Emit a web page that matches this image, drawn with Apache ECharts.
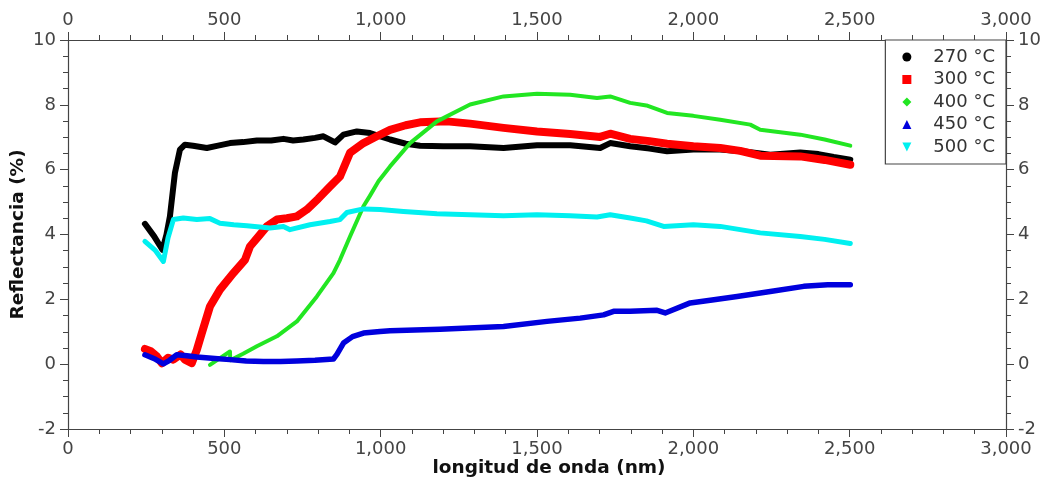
<!DOCTYPE html>
<html>
<head>
<meta charset="utf-8">
<title>Reflectancia</title>
<script src="https://cdn.jsdelivr.net/npm/echarts@6/dist/echarts.min.js"></script>
<style>
  html, body { margin: 0; padding: 0; background: #ffffff; }
  #chart { width: 1046px; height: 481px; }
</style>
</head>
<body>
<div id="chart"></div>
<script>
// Reflectance spectra of films annealed at different temperatures
const seriesNames = ['270 °C', '300 °C', '400 °C', '450 °C', '500 °C'];

// wavelength (nm) / reflectance (%) pairs per annealing temperature
const wl270 = [246, 275, 302, 315, 326, 342, 358, 374, 400, 444, 480, 518, 560, 604, 650, 689, 720, 753, 790, 817, 854, 881, 924, 966, 1030, 1080, 1126, 1200, 1286, 1393, 1500, 1606, 1702, 1734, 1798, 1860, 1916, 2000, 2086, 2170, 2246, 2342, 2400, 2449, 2502];
const r270  = [4.33, 3.95, 3.53, 4.0, 4.56, 5.9, 6.62, 6.77, 6.74, 6.67, 6.74, 6.82, 6.85, 6.9, 6.9, 6.95, 6.9, 6.93, 6.98, 7.03, 6.84, 7.08, 7.18, 7.13, 6.93, 6.8, 6.74, 6.72, 6.72, 6.67, 6.75, 6.75, 6.67, 6.82, 6.72, 6.65, 6.57, 6.62, 6.62, 6.55, 6.46, 6.53, 6.48, 6.39, 6.31];

const wl300 = [246, 265, 284, 300, 320, 337, 360, 374, 396, 412, 428, 454, 486, 529, 566, 582, 610, 636, 668, 700, 732, 764, 800, 838, 870, 902, 945, 988, 1030, 1080, 1126, 1212, 1286, 1393, 1500, 1606, 1702, 1734, 1798, 1860, 1916, 2000, 2086, 2150, 2214, 2342, 2420, 2502];
const r300  = [0.47, 0.4, 0.24, 0.03, 0.2, 0.14, 0.3, 0.14, 0.03, 0.44, 0.96, 1.78, 2.3, 2.81, 3.22, 3.63, 3.95, 4.25, 4.46, 4.5, 4.56, 4.77, 5.1, 5.48, 5.79, 6.52, 6.82, 7.03, 7.23, 7.37, 7.46, 7.49, 7.42, 7.29, 7.18, 7.1, 7.01, 7.11, 6.95, 6.88, 6.8, 6.72, 6.67, 6.58, 6.43, 6.41, 6.3, 6.15];

const wl400 = [454, 485, 518, 519, 560, 604, 668, 732, 796, 849, 870, 902, 945, 966, 993, 1030, 1094, 1180, 1286, 1393, 1500, 1606, 1692, 1734, 1798, 1850, 1916, 2000, 2086, 2182, 2214, 2342, 2420, 2502];
const r400  = [-0.02, 0.18, 0.39, 0.12, 0.32, 0.55, 0.86, 1.32, 2.09, 2.81, 3.22, 3.94, 4.87, 5.2, 5.64, 6.1, 6.82, 7.49, 8.01, 8.26, 8.34, 8.31, 8.21, 8.26, 8.06, 7.98, 7.75, 7.66, 7.54, 7.39, 7.23, 7.08, 6.93, 6.74];

const wl450 = [246, 280, 305, 325, 348, 380, 412, 460, 518, 570, 625, 680, 732, 790, 849, 860, 881, 910, 945, 998, 1030, 1190, 1300, 1393, 1532, 1638, 1713, 1745, 1798, 1884, 1910, 1990, 2060, 2140, 2246, 2353, 2430, 2502];
const r450  = [0.29, 0.15, 0.01, 0.12, 0.29, 0.26, 0.22, 0.18, 0.14, 0.1, 0.08, 0.08, 0.1, 0.12, 0.16, 0.3, 0.65, 0.85, 0.96, 1.01, 1.03, 1.08, 1.12, 1.16, 1.32, 1.42, 1.52, 1.63, 1.63, 1.66, 1.58, 1.89, 1.98, 2.09, 2.24, 2.4, 2.45, 2.45];

const wl500 = [246, 280, 305, 320, 337, 369, 412, 454, 486, 530, 572, 646, 689, 710, 774, 838, 870, 892, 945, 998, 1073, 1180, 1286, 1393, 1500, 1606, 1692, 1734, 1798, 1850, 1905, 2000, 2086, 2150, 2214, 2342, 2420, 2502];
const r500  = [3.79, 3.5, 3.17, 3.9, 4.46, 4.51, 4.46, 4.49, 4.35, 4.3, 4.27, 4.2, 4.25, 4.15, 4.3, 4.4, 4.46, 4.68, 4.79, 4.77, 4.71, 4.64, 4.61, 4.58, 4.61, 4.58, 4.54, 4.61, 4.51, 4.42, 4.25, 4.3, 4.25, 4.15, 4.05, 3.94, 3.85, 3.72];

const xTicks = [0, 500, 1000, 1500, 2000, 2500, 3000];
const yTicks = [-2, 0, 2, 4, 6, 8, 10];

const colors = ['#000000', '#ff0000', '#22e622', '#0000dd', '#00f0f0'];
const widths = [6, 8, 4, 5.5, 5];
const icons = ['circle', 'rect', 'diamond', 'triangle', 'path://M0,0 L10,0 L5,10 Z'];

const zip = (xs, ys) => xs.map((x, i) => [x, ys[i]]);
const allData = [zip(wl270, r270), zip(wl300, r300), zip(wl400, r400), zip(wl450, r450), zip(wl500, r500)];

const FONT = 'DejaVu Sans';
const axisColor = '#444444';
const fmtX = v => Number(v).toLocaleString('en-US');

function xAxisCfg(pos, withName) {
  return {
    type: 'value', position: pos,
    min: xTicks[0], max: xTicks[xTicks.length - 1], interval: 500,
    name: withName ? 'longitud de onda (nm)' : '',
    nameLocation: 'middle', nameGap: 30, nameMoveOverlap: false,
    nameTextStyle: { fontFamily: FONT, fontSize: 18.5, fontWeight: 'bold', color: '#111', padding: [0, 0, 0, 24] },
    axisLine: { show: true, onZero: false, lineStyle: { color: axisColor, width: 1.2 } },
    axisTick: { show: true, inside: false, length: 8, lineStyle: { color: axisColor } },
    minorTick: { show: true, splitNumber: 5, length: 5, lineStyle: { color: axisColor } },
    splitLine: { show: false },
    axisLabel: { fontFamily: FONT, fontSize: 18, color: '#444', margin: 11, formatter: fmtX }
  };
}
function yAxisCfg(pos, withName) {
  return {
    type: 'value', position: pos,
    min: yTicks[0], max: yTicks[yTicks.length - 1], interval: 2,
    name: withName ? 'Reflectancia (%)' : '',
    nameLocation: 'middle', nameGap: 40, nameRotate: 90, nameMoveOverlap: false,
    nameTextStyle: { fontFamily: FONT, fontSize: 18.5, fontWeight: 'bold', color: '#111' },
    axisLine: { show: true, onZero: false, lineStyle: { color: axisColor, width: 1.2 } },
    axisTick: { show: true, inside: false, length: 8, lineStyle: { color: axisColor } },
    minorTick: { show: true, splitNumber: 4, length: 5, lineStyle: { color: axisColor } },
    splitLine: { show: false },
    axisLabel: { fontFamily: FONT, fontSize: 18, color: '#444', margin: 12 }
  };
}

const chart = echarts.init(document.getElementById('chart'), null, { renderer: 'canvas' });
chart.setOption({
  backgroundColor: '#ffffff',
  animation: false,
  grid: { left: 68, right: 40, top: 40, bottom: 52, containLabel: false, outerBoundsMode: 'none' },
  legend: {
    orient: 'vertical', right: 40, top: 40,
    backgroundColor: '#ffffff',
    borderColor: '#444', borderWidth: 1.2, borderRadius: 0,
    padding: [8, 11, 8, 17],
    itemWidth: 9, itemHeight: 9, itemGap: 4.5,
    textStyle: { fontFamily: FONT, fontSize: 18, color: '#333', lineHeight: 18, padding: [0, 0, 0, 17] },
    data: seriesNames.map((n, i) => ({ name: n, icon: icons[i] }))
  },
  xAxis: [xAxisCfg('bottom', true), xAxisCfg('top', false)],
  yAxis: [yAxisCfg('left', true), yAxisCfg('right', false)],
  series: seriesNames.map((n, i) => ({
    name: n, type: 'line', xAxisIndex: 0, yAxisIndex: 0,
    data: allData[i], showSymbol: false, symbol: 'none',
    color: colors[i],
    lineStyle: { color: colors[i], width: widths[i], join: 'round', cap: 'round' },
    itemStyle: { color: colors[i] }
  }))
});
</script>
</body>
</html>
